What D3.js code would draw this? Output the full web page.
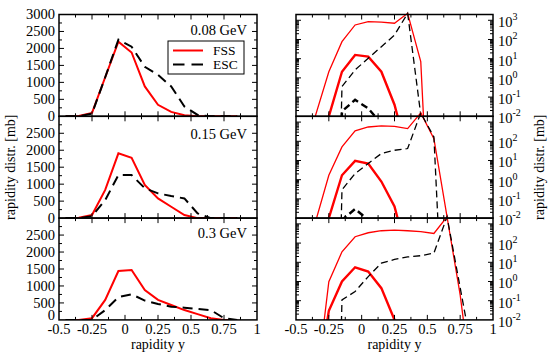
<!DOCTYPE html>
<html><head><meta charset="utf-8">
<script src="https://cdn.jsdelivr.net/npm/d3@7"></script>
<style>
body{margin:0;background:#fff;}
svg{display:block;}
</style>
</head><body>
<svg id="c" width="550" height="361" font-family="'Liberation Serif', 'DejaVu Serif', serif"></svg>
<script>
// ---------- DATA ----------
const bins = [-0.45,-0.35,-0.25,-0.15,-0.05,0.05,0.15,0.25,0.35,0.45,0.55,0.65,0.75,0.85];
const energyLabels = ["0.08 GeV","0.15 GeV","0.3 GeV"];
const legendLabels = ["FSS","ESC"];
const xTickLabels = ["-0.5","-0.25","0","0.25","0.5","0.75","1"];
const xTickValues = [-0.5,-0.25,0,0.25,0.5,0.75,1];
const linTickValues = [0,500,1000,1500,2000,2500,3000];
const logTickValues = [0.01,0.1,1,10,100,1000];
const logTickExps = ["-2","-1","0","1","2","3"];

// linear panels (left)
const fss008 = [0,10,100,1150,2200,1880,880,340,130,30,0,0,0,0];
const esc008 = [0,0,80,1150,2260,2050,1460,1220,880,290,40,0,0,0];
const fss015 = [0,10,90,830,1910,1780,980,580,335,90,0,0,0,0];
const esc015 = [0,0,60,530,1270,1270,880,730,650,580,140,0,0,0];
const fss03  = [0,0,50,590,1440,1470,880,590,440,290,170,50,0,0];
const esc03  = [0,0,0,290,670,755,570,470,390,360,320,290,50,0];

// log panels (right): thin = all, thick = component
const fssThin008  = [1e-8,0.012,2.1,77,570,850,800,700,2300,7,1e-13,1e-13,1e-13,1e-13];
const fssThick008 = [1e-6,1e-4,0.01,2.1,15.7,12.8,2.1,0.04,1e-4,1e-6,1e-6,1e-6,1e-6,1e-6];
const escThin008  = [1e-30,1e-30,1e-30,0.35,2.6,10.6,42,170,2300,0.012,1e-30,1e-30,1e-30,1e-30];
const escThick008 = [1e-30,1e-30,1e-30,0.018,0.072,0.026,0.004,1e-30,1e-30,1e-30,1e-30,1e-30,1e-30,1e-30];

const fssThin015  = [1e-6,0.007,1.7,51,350,555,630,600,460,3000,138,0.012,1e-6,1e-6];
const fssThick015 = [1e-6,1e-4,0.01,1.7,9.5,6.9,0.8,0.04,1e-4,1e-6,1e-6,1e-6,1e-6,1e-6];
const escThin015  = [1e-30,1e-30,1e-30,0.3,2.1,7,23,34,42,3000,168,1e-12,1e-12,1e-12];
const escThick015 = [1e-30,1e-30,1e-30,0.008,0.03,0.008,1e-30,1e-30,1e-30,1e-30,1e-30,1e-30,1e-30,1e-30];

const fssThin03   = [1e-8,2e-6,0.98,35,214,345,440,475,440,400,316,2350,0.2,1e-6];
const fssThick03  = [1e-8,1e-6,0.03,1,5.5,3.3,0.45,0.01,1e-6,1e-8,1e-8,1e-8,1e-8,1e-8];
const escThin03   = [1e-30,1e-30,1e-30,0.11,0.3,1.8,9,14,19,22,30,2350,0.48,1e-4];

// ---------- LAYOUT ----------
const svg = d3.select("#c");
const FONT = "'Liberation Serif', 'DejaVu Serif', serif";
const rowTop = [14.5,116.3,218.1], rowH = 101.8;
const labelOff = [20,23,20];
const xL = d3.scaleLinear([-0.5,1],[59,257]);
const xR = d3.scaleLinear([-0.5,1],[296,493]);
const RED = "#ff0000";
const FS = 14.5;

const linSets = [[fss008,esc008],[fss015,esc015],[fss03,esc03]];
const logSets = [
  [fssThin008,fssThick008,escThin008,escThick008],
  [fssThin015,fssThick015,escThin015,escThick015],
  [fssThin03,fssThick03,escThin03,null]
];

const defs = svg.append("defs");
function txt(g){ return g.append("text").attr("font-family",FONT).attr("fill","#000"); }

function xTicks(g, x, y0, y1){
  const [a,b] = x.range();
  for(let k=0;k<=12;k++){
    const v = -0.5 + k*0.125;
    const px = x(v);
    if (px<=a+0.5 || px>=b-0.5) continue;
    const len = (k%2===0)?5:3;
    g.append("line").attr("x1",px).attr("x2",px).attr("y1",y1).attr("y2",y1-len);
    g.append("line").attr("x1",px).attr("x2",px).attr("y1",y0).attr("y2",y0+len);
  }
}

for (let r=0;r<3;r++){
  const top = rowTop[r], bot = top+rowH;
  // ----- left linear panel -----
  const yLin = d3.scaleLinear([0,3000],[bot,top]);
  const gL = svg.append("g");
  defs.append("clipPath").attr("id","cl"+r).append("rect")
    .attr("x",xL(-0.5)).attr("y",top).attr("width",xL(1)-xL(-0.5)).attr("height",rowH);
  const lineL = d3.line().x((d,i)=>xL(bins[i])).y(d=>yLin(d));
  gL.append("path").attr("d",lineL(linSets[r][0])).attr("fill","none")
    .attr("stroke",RED).attr("stroke-width",2).attr("clip-path","url(#cl"+r+")");
  gL.append("path").attr("d",lineL(linSets[r][1])).attr("fill","none")
    .attr("stroke","#000").attr("stroke-width",2).attr("stroke-dasharray","10,6").attr("clip-path","url(#cl"+r+")");
  const tg = gL.append("g").attr("stroke","#000").attr("stroke-width",1);
  xTicks(tg, xL, top, bot);
  for (let k=0;k<=12;k++){
    const v = k*250, py = yLin(v);
    if (k===0||k===12) continue;
    const len = (k%2===0)?5:3;
    tg.append("line").attr("x1",xL(-0.5)).attr("x2",xL(-0.5)+len).attr("y1",py).attr("y2",py);
    tg.append("line").attr("x1",xL(1)).attr("x2",xL(1)-len).attr("y1",py).attr("y2",py);
  }
  gL.append("rect").attr("x",xL(-0.5)).attr("y",top).attr("width",xL(1)-xL(-0.5)).attr("height",rowH)
    .attr("fill","none").attr("stroke","#000").attr("stroke-width",1.5);
  linTickValues.forEach(v=>{
    if (v===3000 && r>0) return;
    if (v===0 && r===2) return;
    txt(gL).attr("x",55).attr("y",yLin(v)).attr("dy","0.34em")
      .attr("text-anchor","end").attr("font-size",FS).text(String(v));
  });
  txt(gL).attr("x",247).attr("y",top+labelOff[r]).attr("text-anchor","end")
    .attr("font-size",FS).text(energyLabels[r]);

  // ----- right log panel -----
  const yLog = d3.scaleLog([0.01,2000],[bot,top]);
  const gR = svg.append("g");
  defs.append("clipPath").attr("id","cr"+r).append("rect")
    .attr("x",xR(-0.5)).attr("y",top-7).attr("width",xR(1)-xR(-0.5)).attr("height",rowH+7);
  const lineR = d3.line().x((d,i)=>xR(bins[i])).y(d=>yLog(d));
  const [ft, fk, et, ek] = logSets[r];
  gR.append("path").attr("d",lineR(ft)).attr("fill","none").attr("stroke",RED)
    .attr("stroke-width",1.3).attr("clip-path","url(#cr"+r+")");
  gR.append("path").attr("d",lineR(fk)).attr("fill","none").attr("stroke",RED)
    .attr("stroke-width",2.4).attr("clip-path","url(#cr"+r+")");
  gR.append("path").attr("d",lineR(et)).attr("fill","none").attr("stroke","#000")
    .attr("stroke-width",1.3).attr("stroke-dasharray","7,4").attr("clip-path","url(#cr"+r+")");
  if (ek) gR.append("path").attr("d",lineR(ek)).attr("fill","none").attr("stroke","#000")
    .attr("stroke-width",2.4).attr("stroke-dasharray","7,4").attr("clip-path","url(#cr"+r+")");
  const tr = gR.append("g").attr("stroke","#000").attr("stroke-width",1);
  xTicks(tr, xR, top, bot);
  for (let e=-2;e<=3;e++){
    for (let m=1;m<=9;m++){
      const v = m*Math.pow(10,e);
      if (v<=0.01*1.0001 || v>=2000*0.9999) continue;
      const py = yLog(v), len = (m===1)?5:3;
      tr.append("line").attr("x1",xR(-0.5)).attr("x2",xR(-0.5)+len).attr("y1",py).attr("y2",py);
      tr.append("line").attr("x1",xR(1)).attr("x2",xR(1)-len).attr("y1",py).attr("y2",py);
    }
  }
  gR.append("rect").attr("x",xR(-0.5)).attr("y",top).attr("width",xR(1)-xR(-0.5)).attr("height",rowH)
    .attr("fill","none").attr("stroke","#000").attr("stroke-width",1.5);
  logTickValues.forEach((v,i)=>{
    if (v===1000 && r>0) return;
    const t = txt(gR).attr("x",498).attr("y",yLog(v)+7).attr("font-size",FS);
    t.append("tspan").text("10");
    t.append("tspan").attr("font-size",10).attr("dy",-7).text(logTickExps[i]);
  });
}

// bottom x tick labels
const bot = rowTop[2]+rowH;
txt(svg).attr("x",55).attr("y",bot).attr("text-anchor","end").attr("font-size",FS).text("0");
[xL,xR].forEach(x=>{
  xTickValues.forEach((v,i)=>{
    txt(svg).attr("x",x(v)).attr("y",bot+14).attr("text-anchor","middle")
      .attr("font-size",FS).text(xTickLabels[i]);
  });
  txt(svg).attr("x",(x.range()[0]+x.range()[1])/2).attr("y",349)
    .attr("text-anchor","middle").attr("font-size",14).text("rapidity y");
});

// y titles
const midY = (rowTop[0]+bot)/2;
txt(svg).attr("transform",`translate(15,${midY}) rotate(-90)`).attr("text-anchor","middle")
  .attr("font-size",14).text("rapidity distr. [mb]");
txt(svg).attr("transform",`translate(544,${midY}) rotate(-90)`).attr("text-anchor","middle")
  .attr("font-size",14).text("rapidity distr. [mb]");

// legend
const lg = svg.append("g");
lg.append("rect").attr("x",168).attr("y",41).attr("width",76).attr("height",33)
  .attr("fill","#fff").attr("stroke","#000").attr("stroke-width",1);
lg.append("line").attr("x1",173).attr("x2",203).attr("y1",50.5).attr("y2",50.5)
  .attr("stroke",RED).attr("stroke-width",2);
lg.append("line").attr("x1",173).attr("x2",203).attr("y1",64.5).attr("y2",64.5)
  .attr("stroke","#000").attr("stroke-width",2).attr("stroke-dasharray","11.5,7");
txt(lg).attr("x",213).attr("y",55).attr("font-size",13.5).text(legendLabels[0]);
txt(lg).attr("x",213).attr("y",69).attr("font-size",13.5).text(legendLabels[1]);
</script>
</body></html>
